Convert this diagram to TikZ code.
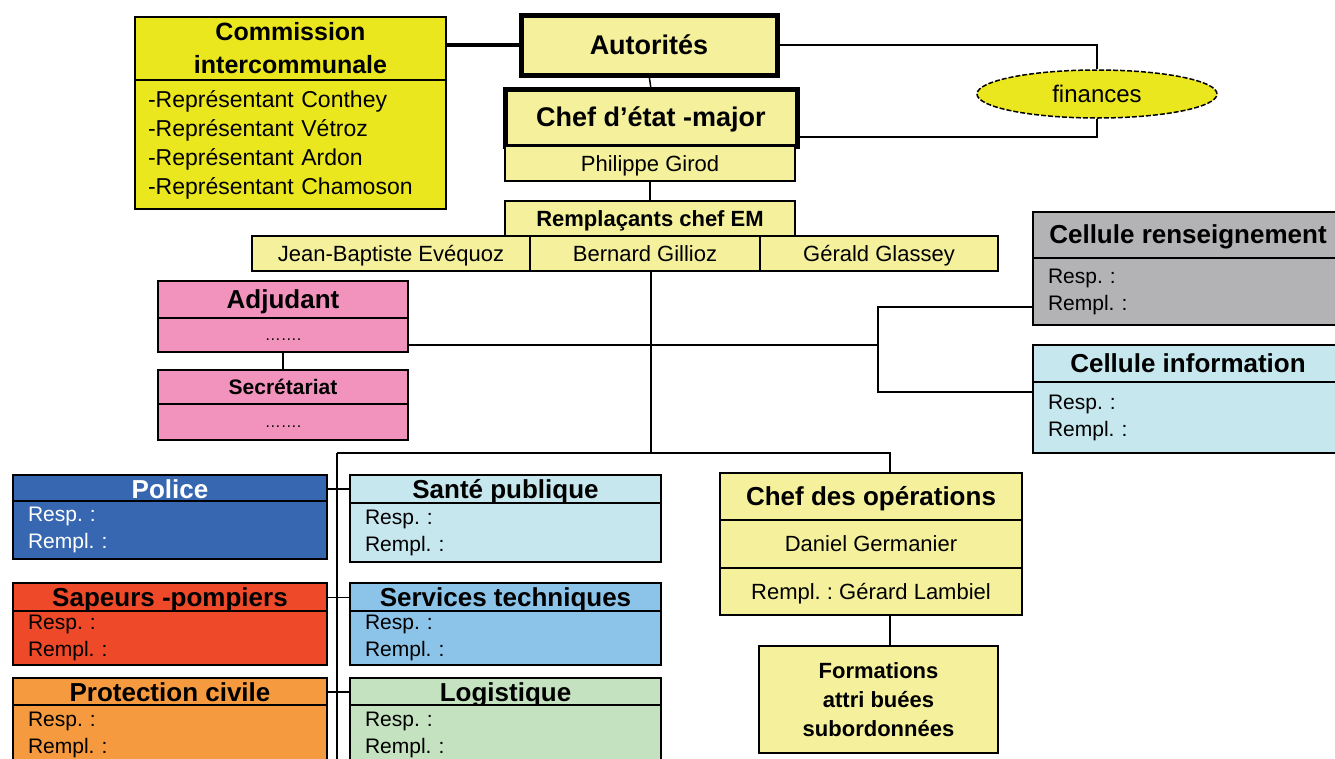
\documentclass[tikz,border=0pt]{standalone}
\usepackage{fontspec}
\setmainfont{Liberation Sans}
\usetikzlibrary{calc,shapes.geometric}
\definecolor{ybright}{HTML}{EBE71F}
\definecolor{ylight}{HTML}{F4F09C}
\definecolor{pinkc}{HTML}{F293BE}
\definecolor{grayc}{HTML}{B3B3B5}
\definecolor{cyanc}{HTML}{C6E7EE}
\definecolor{bluec}{HTML}{3767B1}
\definecolor{redc}{HTML}{EE4A2A}
\definecolor{skyc}{HTML}{8CC3E9}
\definecolor{orangec}{HTML}{F69A40}
\definecolor{greenc}{HTML}{C4E2C0}
\newcommand{\capstrut}{\rule[-0.18em]{0pt}{1.08em}}
\frenchspacing
\begin{document}
\frenchspacing
\begin{tikzpicture}[x=1pt,y=-1pt,
  bx/.style={draw, line width=2pt, anchor=north west, inner sep=0pt, outer sep=0pt, align=center},
  heavy/.style={line width=5pt},
  sz/.style 2 args={minimum width=#1pt, minimum height=#2pt, execute at begin node={\capstrut}},
  lt/.style 2 args={align=left, inner xsep=15pt, text width=#1pt, minimum height=#2pt},
  fT/.style={font=\fontsize{26}{30}\selectfont\bfseries},
  fS/.style={font=\fontsize{22}{29}\selectfont\bfseries},
  fR/.style={font=\fontsize{22}{27}\selectfont},
  fB/.style={font=\fontsize{21}{27}\selectfont},
  fD/.style={font=\fontsize{16}{18}\selectfont},
  conn/.style={draw, line width=1.5pt}]
\useasboundingbox (0,0) rectangle (1335,758);

% --- top
\node[bx, fill=ybright, minimum width=311pt, minimum height=63pt, font=\fontsize{25}{33}\selectfont\bfseries] (comh) at (135,17)
  {Commission\\intercommunale};
\node[bx, fill=ybright, align=left, inner xsep=13pt, text width=285pt, minimum height=129pt,
  font=\fontsize{23}{29}\selectfont] (comb) at (135,80)
  {-Représentant Conthey\\-Représentant Vétroz\\-Représentant Ardon\\-Représentant Chamoson};
\node[bx, heavy, fill=ylight, sz={256}{60}, font=\fontsize{27}{30}\selectfont\bfseries] (aut) at (521,15) {Autorités};
\node[bx, heavy, fill=ylight, sz={292}{57}, font=\fontsize{27}{30}\selectfont\bfseries] (chef) at (505,89) {Chef d’état -major};
\node[bx, fill=ylight, sz={290}{35}, fR] (gir) at (505,146) {Philippe Girod};
\node[draw, line width=1.5pt, dashed, dash pattern=on 5pt off 2pt, ellipse, fill=ybright, inner sep=0pt,
  minimum width=240pt, minimum height=48pt, font=\fontsize{24}{28}\selectfont] (fin) at (1097,94) {finances};

\node[bx, fill=ylight, sz={290}{35}, fS] (rem) at (505,201) {Remplaçants chef EM};
\node[bx, fill=ylight, sz={278}{35}, fR] (jb) at (252,236) {Jean-Baptiste Evéquoz};
\node[bx, fill=ylight, sz={230}{35}, fR] (bg) at (530,236) {Bernard Gillioz};
\node[bx, fill=ylight, sz={238}{35}, fR] (gg) at (760,236) {Gérald Glassey};

% --- adjudant / secretariat
\node[bx, fill=pinkc, sz={250}{37}, fT] (adjh) at (158,281) {Adjudant};
\node[bx, fill=pinkc, sz={250}{34}, fD] (adjb) at (158,318) {…….};
\node[bx, fill=pinkc, sz={250}{34}, font=\fontsize{21}{24}\selectfont\bfseries] (sech) at (158,370) {Secrétariat};
\node[bx, fill=pinkc, sz={250}{36}, fD] (secb) at (158,404) {…….};

% --- cellules
\node[bx, fill=grayc, sz={310}{46}, fT] (rensh) at (1033,212) {Cellule renseignement};
\node[bx, fill=grayc, lt={280}{67}, fB] (rensb) at (1033,258) {Resp. :\\Rempl. :};
\node[bx, fill=cyanc, sz={310}{37}, fT] (infoh) at (1033,345) {Cellule information};
\node[bx, fill=cyanc, lt={280}{71}, fB] (infob) at (1033,382) {Resp. :\\Rempl. :};

% --- departments
\node[bx, fill=bluec, sz={314}{26}, text=white, fT] (polh) at (13,475) {Police};
\node[bx, fill=bluec, lt={284}{58}, text=white, fB] (polb) at (13,501) {Resp. :\\Rempl. :};
\node[bx, fill=cyanc, sz={311}{28}, fT] (sanh) at (350,475) {Santé publique};
\node[bx, fill=cyanc, lt={281}{59}, fB] (sanb) at (350,503) {Resp. :\\Rempl. :};
\node[bx, fill=redc, sz={314}{28}, fT] (saph) at (13,583) {Sapeurs -pompiers};
\node[bx, fill=redc, lt={284}{54}, fB] (sapb) at (13,611) {Resp. :\\Rempl. :};
\node[bx, fill=skyc, sz={311}{28}, fT] (serh) at (350,583) {Services techniques};
\node[bx, fill=skyc, lt={281}{54}, fB] (serb) at (350,611) {Resp. :\\Rempl. :};
\node[bx, fill=orangec, sz={314}{27}, fT] (proh) at (13,678) {Protection civile};
\node[bx, fill=orangec, lt={284}{60}, fB] (prob) at (13,705) {Resp. :\\Rempl. :};
\node[bx, fill=greenc, sz={311}{27}, fT] (logh) at (350,678) {Logistique};
\node[bx, fill=greenc, lt={281}{60}, fB] (logb) at (350,705) {Resp. :\\Rempl. :};

% --- chef des operations
\node[bx, fill=ylight, sz={302}{47}, fT] (coph) at (720,473) {Chef des opérations};
\node[bx, fill=ylight, sz={302}{48}, fR] (copm) at (720,520) {Daniel Germanier};
\node[bx, fill=ylight, sz={302}{47}, fR] (copb) at (720,568) {Rempl. : Gérard Lambiel};
\node[bx, fill=ylight, minimum width=239pt, minimum height=107pt, fS] (form) at (759,646) {Formations\\attri buées\\subordonnées};

% --- coordinates
\coordinate (j) at (651,453);
\coordinate (jl) at (337,453);
\coordinate (jr) at (890,453);
\coordinate (tb) at (337,775);
\coordinate (h1) at (878,345);
\coordinate (cr) at (878,307);
\coordinate (ci) at (878,392);

% --- connectors
\draw[line width=3.5pt] (comh.east |- aut.west) -- (aut.west);
\draw[conn] (aut.east) -| (fin.north);
\draw[conn] (fin.south) |- ($(chef.south east)+(0,-9)$);
\draw[conn] (aut.south) -- (chef.north);
\draw[conn] (gir.south) -- (rem.north);
\draw[conn] (j |- bg.south) -- (j);
\draw[conn] (jl) -- (jr) -- (jr |- coph.north);
\draw[conn] (jl) -- (tb);
\draw[conn] (polh.east) -- (polh.east -| sanh.west);
\draw[conn] (saph.east) -- (saph.east -| serh.west);
\draw[conn] (proh.east) -- (proh.east -| logh.west);
\draw[conn] (adjb.east |- h1) -- (h1);
\draw[conn] (rensb.west |- cr) -- (cr) -- (ci) -- (infob.west |- ci);
\draw[conn] (adjb.south) -- (sech.north);
\draw[conn] (jr |- copb.south) -- (jr |- form.north);
\end{tikzpicture}
\end{document}
